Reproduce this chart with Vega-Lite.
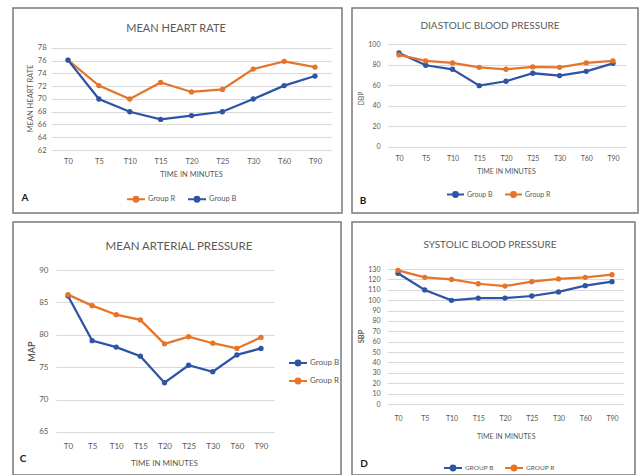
{
  "$schema": "https://vega.github.io/schema/vega-lite/v6.json",
  "background": "white",
  "padding": {"left": 12, "top": 7, "right": 0, "bottom": 0},
  "bounds": "flush",
  "columns": 2,
  "align": "each",
  "spacing": {"row": 9, "column": 10},
  "config": {
    "view": {"stroke": "#7a7a7a", "strokeWidth": 1.5},
    "font": "Lato",
    "axis": {"labelFont": "Lato", "titleFont": "Lato", "labelColor": "#595959", "titleColor": "#595959", "titleFontWeight": "normal", "grid": false, "labelOverlap": false},
    "legend": {"labelFont": "Lato", "labelColor": "#595959"},
    "title": {"font": "Lato", "color": "#595959", "fontWeight": "normal", "anchor": "middle", "frame": "group"}
  },
  "datasets": {
    "hr": [
      {"t": "T0", "group": "Group R", "v": 76.1}, {"t": "T5", "group": "Group R", "v": 72.1}, {"t": "T10", "group": "Group R", "v": 70.0},
      {"t": "T15", "group": "Group R", "v": 72.6}, {"t": "T20", "group": "Group R", "v": 71.1}, {"t": "T25", "group": "Group R", "v": 71.5},
      {"t": "T30", "group": "Group R", "v": 74.7}, {"t": "T60", "group": "Group R", "v": 75.9}, {"t": "T90", "group": "Group R", "v": 75.0},
      {"t": "T0", "group": "Group B", "v": 76.1}, {"t": "T5", "group": "Group B", "v": 70.0}, {"t": "T10", "group": "Group B", "v": 68.0},
      {"t": "T15", "group": "Group B", "v": 66.8}, {"t": "T20", "group": "Group B", "v": 67.4}, {"t": "T25", "group": "Group B", "v": 68.0},
      {"t": "T30", "group": "Group B", "v": 70.0}, {"t": "T60", "group": "Group B", "v": 72.1}, {"t": "T90", "group": "Group B", "v": 73.6}
    ],
    "dbp": [
      {"t": "T0", "group": "Group B", "v": 91.5}, {"t": "T5", "group": "Group B", "v": 79.5}, {"t": "T10", "group": "Group B", "v": 75.6},
      {"t": "T15", "group": "Group B", "v": 59.6}, {"t": "T20", "group": "Group B", "v": 63.9}, {"t": "T25", "group": "Group B", "v": 71.7},
      {"t": "T30", "group": "Group B", "v": 69.4}, {"t": "T60", "group": "Group B", "v": 73.6}, {"t": "T90", "group": "Group B", "v": 81.4},
      {"t": "T0", "group": "Group R", "v": 89.6}, {"t": "T5", "group": "Group R", "v": 83.7}, {"t": "T10", "group": "Group R", "v": 81.8},
      {"t": "T15", "group": "Group R", "v": 77.5}, {"t": "T20", "group": "Group R", "v": 75.6}, {"t": "T25", "group": "Group R", "v": 77.9},
      {"t": "T30", "group": "Group R", "v": 77.5}, {"t": "T60", "group": "Group R", "v": 81.8}, {"t": "T90", "group": "Group R", "v": 83.7}
    ],
    "map": [
      {"t": "T0", "group": "Group B", "v": 86.0}, {"t": "T5", "group": "Group B", "v": 79.1}, {"t": "T10", "group": "Group B", "v": 78.1},
      {"t": "T15", "group": "Group B", "v": 76.7}, {"t": "T20", "group": "Group B", "v": 72.6}, {"t": "T25", "group": "Group B", "v": 75.3},
      {"t": "T30", "group": "Group B", "v": 74.3}, {"t": "T60", "group": "Group B", "v": 76.9}, {"t": "T90", "group": "Group B", "v": 77.9},
      {"t": "T0", "group": "Group R", "v": 86.2}, {"t": "T5", "group": "Group R", "v": 84.5}, {"t": "T10", "group": "Group R", "v": 83.1},
      {"t": "T15", "group": "Group R", "v": 82.3}, {"t": "T20", "group": "Group R", "v": 78.6}, {"t": "T25", "group": "Group R", "v": 79.7},
      {"t": "T30", "group": "Group R", "v": 78.7}, {"t": "T60", "group": "Group R", "v": 77.9}, {"t": "T90", "group": "Group R", "v": 79.6}
    ],
    "sbp": [
      {"t": "T0", "group": "Group B", "v": 125.9}, {"t": "T5", "group": "Group B", "v": 109.8}, {"t": "T10", "group": "Group B", "v": 99.8},
      {"t": "T15", "group": "Group B", "v": 102.0}, {"t": "T20", "group": "Group B", "v": 102.0}, {"t": "T25", "group": "Group B", "v": 104.0},
      {"t": "T30", "group": "Group B", "v": 107.9}, {"t": "T60", "group": "Group B", "v": 113.9}, {"t": "T90", "group": "Group B", "v": 117.8},
      {"t": "T0", "group": "Group R", "v": 128.7}, {"t": "T5", "group": "Group R", "v": 122.0}, {"t": "T10", "group": "Group R", "v": 120.0},
      {"t": "T15", "group": "Group R", "v": 115.8}, {"t": "T20", "group": "Group R", "v": 113.6}, {"t": "T25", "group": "Group R", "v": 117.8},
      {"t": "T30", "group": "Group R", "v": 120.4}, {"t": "T60", "group": "Group R", "v": 122.0}, {"t": "T90", "group": "Group R", "v": 124.5}
    ]
  },
  "resolve": {"scale": {"color": "independent"}, "legend": {"color": "independent"}},
  "concat": [
    {
      "width": 329, "height": 205,
      "title": {"text": "MEAN HEART RATE", "fontSize": 11, "offset": -26.3, "dx": -1.5},
      "data": {"name": "hr"},
      "encoding": {
        "x": {"field": "t", "type": "ordinal",
          "scale": {"type": "point", "domain": ["T0", "T5", "T10", "T15", "T20", "T25", "T30", "T60", "T90"], "range": [55, 302], "padding": 0},
          "axis": {"orient": "bottom", "offset": -52, "domain": false, "ticks": false, "labelPadding": 0, "labelBaseline": "middle", "labelAngle": 0, "labelFontSize": 7.5, "labelOverlap": false,
            "title": "TIME IN MINUTES", "titleFontSize": 7.5, "titleX": 178, "titleY": 13, "titleAlign": "center", "titleBaseline": "middle"}}
      },
      "layer": [
        {
          "mark": {"type": "line", "strokeWidth": 2.25, "point": {"filled": true, "size": 28}},
          "encoding": {
            "y": {"field": "v", "type": "quantitative",
              "scale": {"domain": [52.12, 84.27], "nice": false, "zero": false},
              "axis": {"orient": "left", "offset": -318, "domain": false, "ticks": true, "tickSize": 280, "tickColor": "#d9d9d9", "tickWidth": 1, "labelPadding": 5, "labelFontSize": 7.5, "labelOverlap": false, "tickCount": 30,
                "values": [62, 64, 66, 68, 70, 72, 74, 76, 78],
                "title": "MEAN HEART RATE", "titleFontSize": 7.5, "titleX": -301, "titleY": 90, "titleAngle": -90, "titleAlign": "center", "titleBaseline": "middle"}},
            "color": {"field": "group", "type": "nominal",
              "scale": {"domain": ["Group R", "Group B"], "range": ["#E67429", "#2E54A6"]},
              "legend": {"orient": "none", "legendX": 113, "legendY": 181, "direction": "horizontal", "title": null, "padding": 0,
                "symbolType": "M-1,0H1M-0.27,0A0.27,0.27,0,1,0,0.27,0A0.27,0.27,0,1,0,-0.27,0Z", "symbolSize": 324, "symbolStrokeWidth": 2,
                "labelFontSize": 7.5, "labelOffset": 2, "columnPadding": 8}},
            "order": {"value": null}
          }
        },
        {
          "transform": [{"filter": "datum.t == 'T0' && datum.group == 'Group B'"}],
          "mark": {"type": "text", "fontWeight": "bold", "fontSize": 10, "color": "#1a1a1a", "dx": -43, "align": "center", "baseline": "middle"},
          "encoding": {
            "y": {"datum": 54.47, "type": "quantitative"},
            "text": {"value": "A"}
          }
        }
      ]
    },
    {
      "width": 286, "height": 205,
      "title": {"text": "DIASTOLIC BLOOD PRESSURE", "fontSize": 10, "offset": -22.75, "dx": -5},
      "data": {"name": "dbp"},
      "encoding": {
        "x": {"field": "t", "type": "ordinal",
          "scale": {"type": "point", "domain": ["T0", "T5", "T10", "T15", "T20", "T25", "T30", "T60", "T90"], "range": [47, 261], "padding": 0},
          "axis": {"orient": "bottom", "offset": -55, "domain": false, "ticks": false, "labelPadding": 0, "labelBaseline": "middle", "labelAngle": 0, "labelFontSize": 7, "labelOverlap": false,
            "title": "TIME IN MINUTES", "titleFontSize": 7, "titleX": 154, "titleY": 13, "titleAlign": "center", "titleBaseline": "middle"}}
      },
      "layer": [
        {
          "mark": {"type": "line", "strokeWidth": 2.25, "point": {"filled": true, "size": 28}},
          "encoding": {
            "y": {"field": "v", "type": "quantitative",
              "scale": {"domain": [-64.7, 135.4], "nice": false, "zero": false},
              "axis": {"orient": "left", "offset": -274, "domain": false, "ticks": true, "tickSize": 238, "tickColor": "#d9d9d9", "tickWidth": 1, "labelPadding": 8, "labelFontSize": 7, "labelOverlap": false, "tickCount": 30,
                "values": [0, 20, 40, 60, 80, 100],
                "title": "DBP", "titleFontSize": 7, "titleX": -264.3, "titleY": 90, "titleAngle": -90, "titleAlign": "center", "titleBaseline": "middle"}},
            "color": {"field": "group", "type": "nominal",
              "scale": {"domain": ["Group B", "Group R"], "range": ["#2E54A6", "#E67429"]},
              "legend": {"orient": "none", "legendX": 94, "legendY": 177, "direction": "horizontal", "title": null, "padding": 0,
                "symbolType": "M-1,0H1M-0.29,0A0.29,0.29,0,1,0,0.29,0A0.29,0.29,0,1,0,-0.29,0Z", "symbolSize": 289, "symbolStrokeWidth": 2,
                "labelFontSize": 7, "labelOffset": 2, "columnPadding": 8}},
            "order": {"value": null}
          }
        },
        {
          "transform": [{"filter": "datum.t == 'T0' && datum.group == 'Group B'"}],
          "mark": {"type": "text", "fontWeight": "bold", "fontSize": 10, "color": "#1a1a1a", "dx": -36, "align": "center", "baseline": "middle"},
          "encoding": {
            "y": {"datum": -53.1, "type": "quantitative"},
            "text": {"value": "B"}
          }
        }
      ]
    },
    {
      "width": 328, "height": 253,
      "title": {"text": "MEAN ARTERIAL PRESSURE", "fontSize": 11.5, "offset": -30.25, "dx": 2},
      "data": {"name": "map"},
      "encoding": {
        "x": {"field": "t", "type": "ordinal",
          "scale": {"type": "point", "domain": ["T0", "T5", "T10", "T15", "T20", "T25", "T30", "T60", "T90"], "range": [55, 248], "padding": 0},
          "axis": {"orient": "bottom", "offset": -29, "domain": false, "ticks": false, "labelPadding": 0, "labelBaseline": "middle", "labelAngle": 0, "labelFontSize": 8, "labelOverlap": false,
            "title": "TIME IN MINUTES", "titleFontSize": 8, "titleX": 151, "titleY": 17, "titleAlign": "center", "titleBaseline": "middle"}}
      },
      "layer": [
        {
          "mark": {"type": "line", "strokeWidth": 2.25, "point": {"filled": true, "size": 28}},
          "encoding": {
            "y": {"field": "v", "type": "quantitative",
              "scale": {"domain": [58.36, 97.41], "nice": false, "zero": false},
              "axis": {"orient": "left", "offset": -261, "domain": false, "ticks": true, "tickSize": 218, "tickColor": "#d9d9d9", "tickWidth": 1, "labelPadding": 8, "labelFontSize": 8, "labelOverlap": false, "tickCount": 30,
                "values": [65, 70, 75, 80, 85, 90],
                "title": "MAP", "titleFontSize": 9, "titleFontWeight": "bold", "titleX": -242.3, "titleY": 129, "titleAngle": -90, "titleAlign": "center", "titleBaseline": "middle"}},
            "color": {"field": "group", "type": "nominal",
              "scale": {"domain": ["Group B", "Group R"], "range": ["#2E54A6", "#E67429"]},
              "legend": {"orient": "none", "legendX": 275, "legendY": 131, "direction": "vertical", "title": null, "padding": 0,
                "symbolType": "M-1,0H1M-0.27,0A0.27,0.27,0,1,0,0.27,0A0.27,0.27,0,1,0,-0.27,0Z", "symbolSize": 324, "symbolStrokeWidth": 2,
                "labelFontSize": 8, "labelOffset": 2, "rowPadding": 1}},
            "order": {"value": null}
          }
        },
        {
          "transform": [{"filter": "datum.t == 'T0' && datum.group == 'Group B'"}],
          "mark": {"type": "text", "fontWeight": "bold", "fontSize": 10, "color": "#1a1a1a", "dx": -45, "align": "center", "baseline": "middle"},
          "encoding": {
            "y": {"datum": 60.84, "type": "quantitative"},
            "text": {"value": "C"}
          }
        }
      ]
    },
    {
      "width": 283, "height": 253,
      "title": {"text": "SYSTOLIC BLOOD PRESSURE", "fontSize": 10, "offset": -28.05, "dx": -3.5},
      "data": {"name": "sbp"},
      "encoding": {
        "x": {"field": "t", "type": "ordinal",
          "scale": {"type": "point", "domain": ["T0", "T5", "T10", "T15", "T20", "T25", "T30", "T60", "T90"], "range": [46, 260], "padding": 0},
          "axis": {"orient": "bottom", "offset": -56.3, "domain": false, "ticks": false, "labelPadding": 0, "labelBaseline": "middle", "labelAngle": 0, "labelFontSize": 7, "labelOverlap": false,
            "title": "TIME IN MINUTES", "titleFontSize": 7, "titleX": 153.7, "titleY": 17.3, "titleAlign": "center", "titleBaseline": "middle"}}
      },
      "layer": [
        {
          "mark": {"type": "line", "strokeWidth": 2.25, "point": {"filled": true, "size": 28}},
          "encoding": {
            "y": {"field": "v", "type": "quantitative",
              "scale": {"domain": [-68.37, 175.26], "nice": false, "zero": false},
              "axis": {"orient": "left", "offset": -272, "domain": false, "ticks": true, "tickSize": 237, "tickColor": "#d9d9d9", "tickWidth": 1, "labelPadding": 7, "labelFontSize": 7, "labelOverlap": false, "tickCount": 30,
                "values": [0, 10, 20, 30, 40, 50, 60, 70, 80, 90, 100, 110, 120, 130],
                "title": "SBP", "titleFontSize": 7.5, "titleFontWeight": "bold", "titleX": -263, "titleY": 114, "titleAngle": -90, "titleAlign": "center", "titleBaseline": "middle"}},
            "color": {"field": "group", "type": "nominal",
              "scale": {"domain": ["Group B", "Group R"], "range": ["#2E54A6", "#E67429"]},
              "legend": {"orient": "none", "legendX": 91, "legendY": 235.7, "direction": "horizontal", "title": null, "padding": 0,
                "symbolType": "M-1,0H1M-0.27,0A0.27,0.27,0,1,0,0.27,0A0.27,0.27,0,1,0,-0.27,0Z", "symbolSize": 324, "symbolStrokeWidth": 2,
                "labelFontSize": 6.5, "labelOffset": 2, "columnPadding": 7, "labelExpr": "upper(datum.label)"}},
            "order": {"value": null}
          }
        },
        {
          "transform": [{"filter": "datum.t == 'T0' && datum.group == 'Group B'"}],
          "mark": {"type": "text", "fontWeight": "bold", "fontSize": 10, "color": "#1a1a1a", "dx": -34, "align": "center", "baseline": "middle"},
          "encoding": {
            "y": {"datum": -57.77, "type": "quantitative"},
            "text": {"value": "D"}
          }
        }
      ]
    }
  ]
}
